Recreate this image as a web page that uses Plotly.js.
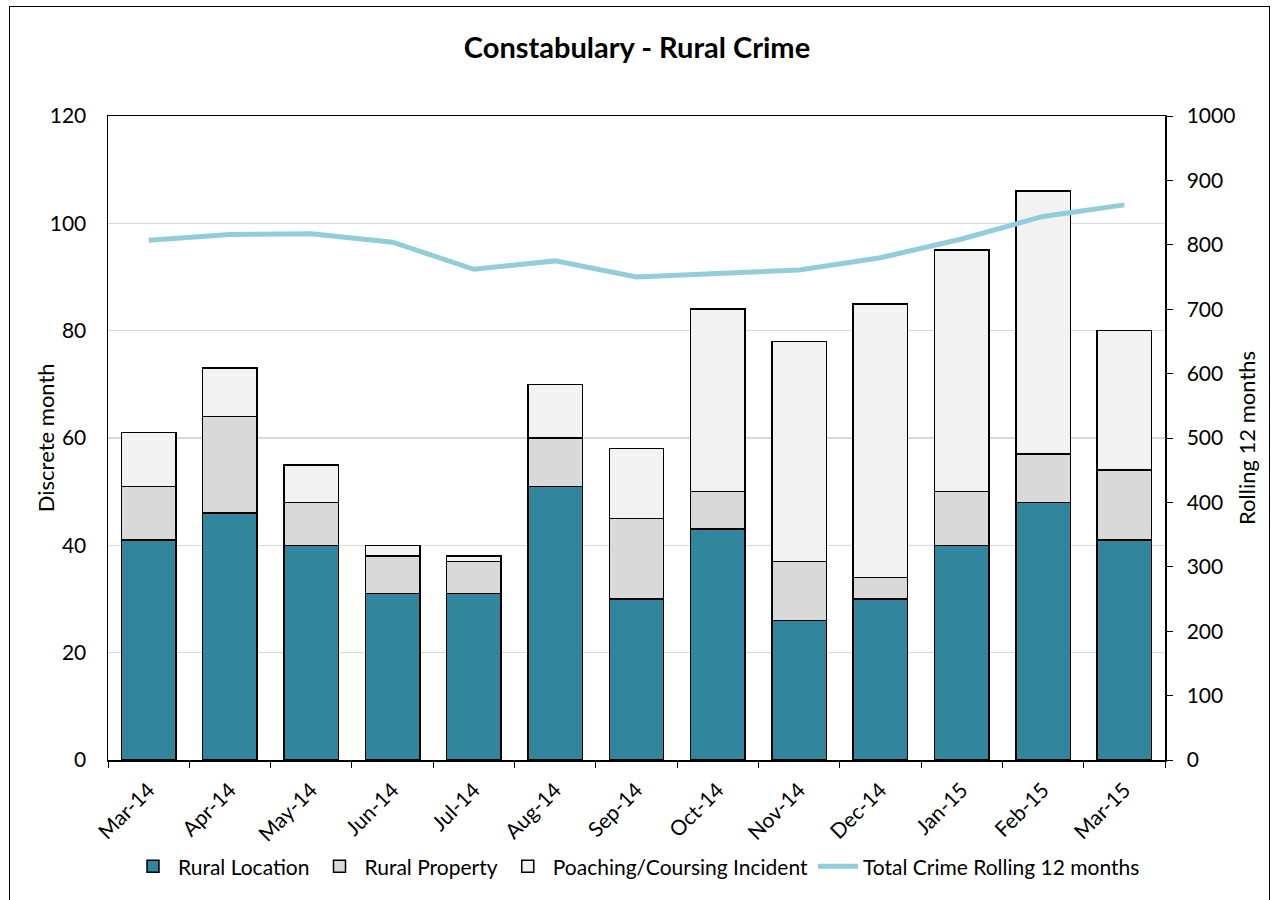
<!DOCTYPE html>
<html>
<head>
<meta charset="utf-8">
<script src="https://cdn.plot.ly/plotly-3.0.1.min.js"></script>
<style>
  html, body { margin: 0; padding: 0; background: #fff; }
  #wrap { position: relative; width: 1274px; height: 900px; }
  #chart { width: 1274px; height: 900px; }
  #frame { position: absolute; left: 9px; top: 6px; width: 1261px; height: 900px;
           border: 1px solid #000; box-sizing: border-box; pointer-events: none; }
</style>
</head>
<body>
<div id="wrap">
  <div id="chart"></div>
  <div id="frame"></div>
</div>
<script>
const months = ["Mar-14","Apr-14","May-14","Jun-14","Jul-14","Aug-14","Sep-14","Oct-14","Nov-14","Dec-14","Jan-15","Feb-15","Mar-15"];
const ruralLocation = [41, 46, 40, 31, 31, 51, 30, 43, 26, 30, 40, 48, 41];
const ruralProperty = [10, 18, 8, 7, 6, 9, 15, 7, 11, 4, 10, 9, 13];
const poachingCoursing = [10, 9, 7, 2, 1, 10, 13, 34, 41, 51, 45, 49, 26];
const rolling12 = [807, 816, 817, 804, 762, 775, 750, 756, 761, 780, 809, 844, 862];

const FONT = "Lato, 'Open Sans', sans-serif";
const barLine = {color: "#000000", width: 1.5};

const traces = [
  {type: "bar", name: "Rural Location", x: months, y: ruralLocation,
   marker: {color: "#31859C", line: barLine}},
  {type: "bar", name: "Rural Property", x: months, y: ruralProperty,
   marker: {color: "#D9D9D9", line: barLine}},
  {type: "bar", name: "Poaching/Coursing Incident", x: months, y: poachingCoursing,
   marker: {color: "#F2F2F2", line: barLine}},
  {type: "scatter", mode: "lines", name: "Total Crime Rolling 12 months", x: months, y: rolling12,
   yaxis: "y2", line: {color: "#92CDDC", width: 5}}
];

const layout = {
  width: 1274, height: 900,
  margin: {l: 108, r: 109, t: 116, b: 140},
  paper_bgcolor: "#ffffff", plot_bgcolor: "#ffffff",
  font: {family: FONT, size: 21, color: "#000000"},
  title: {text: "<b>Constabulary - Rural Crime</b>", font: {family: FONT, size: 29, color: "#000"},
          x: 0.5, xanchor: "center", y: 0.947, yanchor: "middle"},
  barmode: "stack",
  bargap: 0.33,
  showlegend: true,
  legend: {orientation: "h", x: 0.5, xanchor: "center", yref: "container", y: 0.037, yanchor: "middle",
           font: {family: FONT, size: 21}, traceorder: "normal", itemwidth: 40},
  xaxis: {type: "category", tickson: "boundaries", ticks: "outside", ticklen: 6, tickcolor: "#000",
          tickangle: -45, showline: true, linecolor: "#000", linewidth: 1.5, mirror: true,
          showgrid: false, ticklabelstandoff: 8, tickfont: {family: FONT, size: 21}},
  yaxis: {range: [0, 120], dtick: 20, showgrid: true, gridcolor: "#D9D9D9", gridwidth: 1.5,
          showline: true, linecolor: "#000", linewidth: 1.5, mirror: true, ticks: "",
          zeroline: false, ticklabelstandoff: 16, tickfont: {family: FONT, size: 21}},
  yaxis2: {range: [0, 1000], dtick: 100, overlaying: "y", side: "right", showgrid: false,
           showline: true, linecolor: "#000", linewidth: 1.5, ticks: "outside", ticklen: 6,
           tickcolor: "#000", zeroline: false, ticklabelstandoff: 10, tickfont: {family: FONT, size: 21}},
  annotations: [
    {text: "Discrete month", xref: "paper", yref: "paper", x: -0.0594, y: 0.5,
     xanchor: "center", yanchor: "middle", textangle: -90, showarrow: false,
     font: {family: FONT, size: 22, color: "#000"}},
    {text: "Rolling 12 months", xref: "paper", yref: "paper", x: 1.0766, y: 0.5,
     xanchor: "center", yanchor: "middle", textangle: -90, showarrow: false,
     font: {family: FONT, size: 22, color: "#000"}}
  ]
};

Plotly.newPlot("chart", traces, layout, {displayModeBar: false, staticPlot: true});
</script>
</body>
</html>
